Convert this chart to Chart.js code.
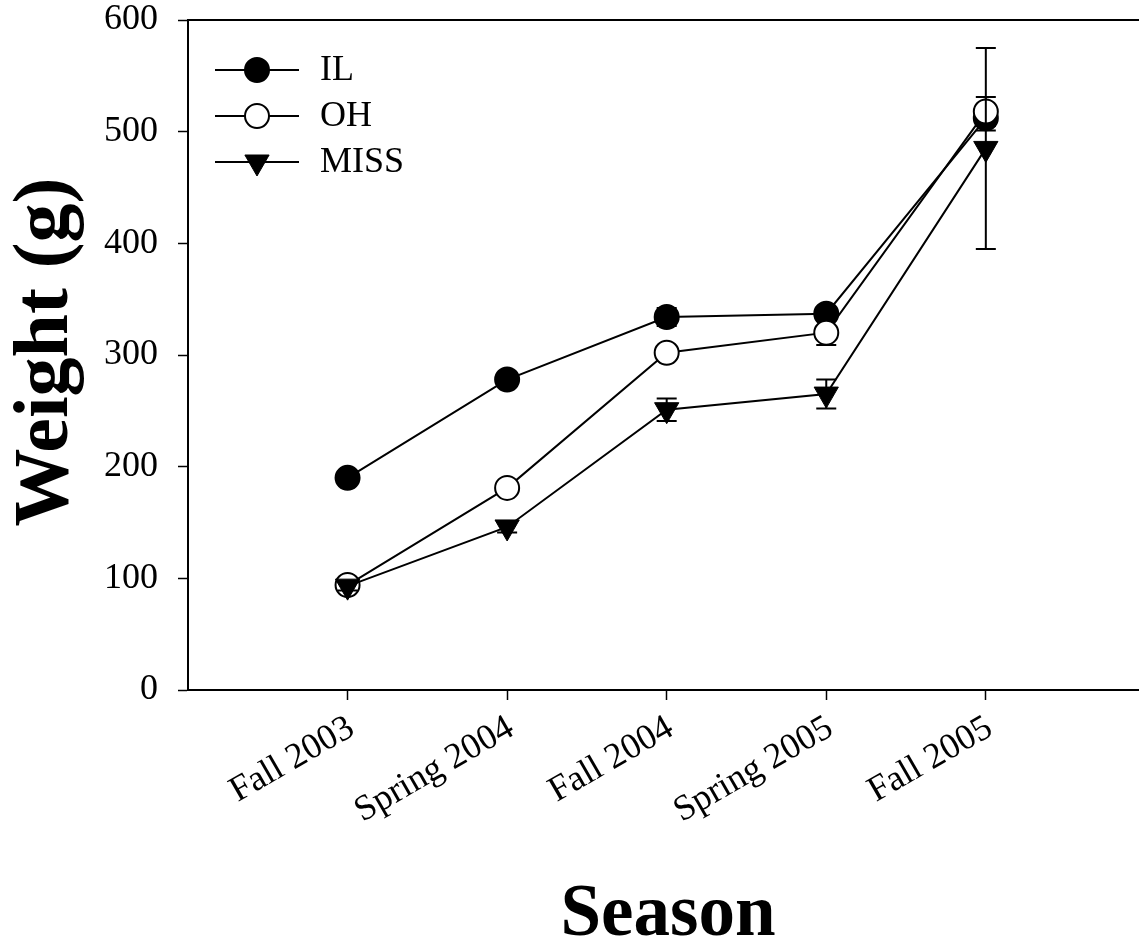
<!DOCTYPE html>
<html>
<head>
<meta charset="utf-8">
<script src="https://cdn.jsdelivr.net/npm/chart.js@4/dist/chart.umd.min.js"></script>
<style>
  html, body { margin: 0; padding: 0; background: #ffffff; }
  #wrap { width: 1139px; height: 946px; }
</style>
</head>
<body>
<div id="wrap"><canvas id="chart" width="1139" height="946"></canvas></div>
<script>
// Seasons on the x axis
const seasons = ['Fall 2003', 'Spring 2004', 'Fall 2004', 'Spring 2005', 'Fall 2005'];

// Mean weight (g) and error per population
const ilWeight   = [190, 278, 334, 337, 512];
const ilError    = [4, 5, 8, 6, 11];
const ohWeight   = [94, 181, 302, 320, 518];
const ohError    = [5, 5, 6, 11, 13];
const missWeight = [93, 146, 251, 265, 485];
const missError  = [4, 5, 10, 13, 90];

// Series names
const seriesNames = ['IL', 'OH', 'MISS'];

// y axis ticks
const yTicks = [0, 100, 200, 300, 400, 500, 600];

const SERIF = '"Liberation Serif", "Times New Roman", Times, serif';

const toPoints = (vals) => vals.map((v, i) => ({ x: i, y: v }));

const styles = [
  { pointStyle: 'circle',   radius: 12, rotation: 0,   fill: '#000000', borderWidth: 2 },
  { pointStyle: 'circle',   radius: 12, rotation: 0,   fill: '#ffffff', borderWidth: 2 },
  { pointStyle: 'triangle', radius: 14, rotation: 180, fill: '#000000', borderWidth: 1 }
];

const values = [ilWeight, ohWeight, missWeight];
const errors = [ilError, ohError, missError];

const datasets = seriesNames.map((name, k) => ({
  label: name,
  data: toPoints(values[k]),
  errors: errors[k],
  borderColor: '#000000',
  borderWidth: 2,
  pointStyle: styles[k].pointStyle,
  pointRadius: styles[k].radius,
  pointRotation: styles[k].rotation,
  pointBackgroundColor: styles[k].fill,
  pointBorderColor: '#000000',
  pointBorderWidth: styles[k].borderWidth,
  fill: false,
  tension: 0,
  order: 3 - k
}));

// Error bars drawn just before each series so its own markers sit on top
const errorBars = {
  id: 'errorBars',
  beforeDatasetDraw(chart, args) {
    const ds = chart.data.datasets[args.index];
    const yScale = chart.scales.y;
    const ctx = chart.ctx;
    ctx.save();
    ctx.strokeStyle = '#000000';
    ctx.lineWidth = 2;
    args.meta.data.forEach((pt, i) => {
      const v = ds.data[i].y;
      const e = ds.errors[i];
      const yTop = yScale.getPixelForValue(v + e);
      const yBot = yScale.getPixelForValue(v - e);
      const x = pt.x;
      const cap = 10;
      ctx.beginPath();
      ctx.moveTo(x, yTop); ctx.lineTo(x, yBot);
      ctx.moveTo(x - cap, yTop); ctx.lineTo(x + cap, yTop);
      ctx.moveTo(x - cap, yBot); ctx.lineTo(x + cap, yBot);
      ctx.stroke();
    });
    ctx.restore();
  }
};

function markerPath(ctx, style, x, y) {
  ctx.beginPath();
  if (style.pointStyle === 'circle') {
    ctx.arc(x, y, style.radius, 0, Math.PI * 2);
  } else {
    let rad = style.rotation * Math.PI / 180;
    const r = style.radius;
    ctx.moveTo(x + Math.sin(rad) * r, y - Math.cos(rad) * r);
    rad += 2 * Math.PI / 3;
    ctx.lineTo(x + Math.sin(rad) * r, y - Math.cos(rad) * r);
    rad += 2 * Math.PI / 3;
    ctx.lineTo(x + Math.sin(rad) * r, y - Math.cos(rad) * r);
    ctx.closePath();
  }
}

// Frame top line, legend and axis titles
const decorations = {
  id: 'decorations',
  afterDraw(chart) {
    const ctx = chart.ctx;
    const area = chart.chartArea;
    ctx.save();

    // top line of the frame
    ctx.strokeStyle = '#000000';
    ctx.lineWidth = 2;
    ctx.beginPath();
    ctx.moveTo(area.left - 1, area.top);
    ctx.lineTo(area.right, area.top);
    ctx.stroke();

    // legend
    const rowY = [70, 116, 162];
    seriesNames.forEach((name, k) => {
      const y = rowY[k];
      ctx.strokeStyle = '#000000';
      ctx.lineWidth = 2;
      ctx.beginPath();
      ctx.moveTo(215, y); ctx.lineTo(299, y);
      ctx.stroke();
      markerPath(ctx, styles[k], 257, y);
      ctx.fillStyle = styles[k].fill;
      ctx.fill();
      ctx.lineWidth = styles[k].borderWidth;
      ctx.stroke();
      ctx.fillStyle = '#000000';
      ctx.font = '36px ' + SERIF;
      ctx.textAlign = 'left';
      ctx.textBaseline = 'middle';
      ctx.fillText(name, 320, y + 1);
    });

    // axis titles
    ctx.fillStyle = '#000000';
    ctx.font = 'bold 73px ' + SERIF;
    ctx.textAlign = 'center';
    ctx.textBaseline = 'alphabetic';
    ctx.fillText('Season', 668, 935);

    ctx.font = 'bold 78px ' + SERIF;
    ctx.translate(67, 352);
    ctx.rotate(-Math.PI / 2);
    ctx.fillText('Weight (g)', 0, 0);
    ctx.restore();
  }
};

new Chart(document.getElementById('chart'), {
  type: 'line',
  data: { datasets },
  options: {
    responsive: false,
    animation: false,
    devicePixelRatio: 1,
    layout: { autoPadding: false, padding: { top: 20, right: 0, bottom: 0, left: 0 } },
    plugins: {
      legend: { display: false },
      tooltip: { enabled: false }
    },
    scales: {
      x: {
        type: 'linear',
        min: -1,
        max: 4.96,
        afterFit(scale) {
          scale.height = 256;
          scale.paddingLeft = 0;
          scale.paddingRight = 0;
        },
        afterBuildTicks(scale) { scale.ticks = seasons.map((_, i) => ({ value: i })); },
        ticks: {
          autoSkip: false,
          minRotation: 30,
          maxRotation: 30,
          padding: 10,
          labelOffset: 4,
          color: '#000000',
          font: { family: SERIF, size: 36, lineHeight: 1.0 },
          callback: (v) => seasons[v] !== undefined ? seasons[v] : ''
        },
        grid: {
          drawOnChartArea: false,
          drawTicks: true,
          tickLength: 10,
          tickColor: '#000000',
          tickWidth: 1.5,
          color: '#000000'
        },
        border: { display: true, color: '#000000', width: 2 }
      },
      y: {
        min: 0,
        max: 600,
        afterFit(scale) {
          scale.width = 188;
          scale.paddingTop = 0;
          scale.paddingBottom = 0;
        },
        afterBuildTicks(scale) { scale.ticks = yTicks.map(v => ({ value: v })); },
        ticks: {
          padding: 20,
          color: '#000000',
          font: { family: SERIF, size: 36, lineHeight: 1.0 }
        },
        grid: {
          drawOnChartArea: false,
          drawTicks: true,
          tickLength: 10,
          tickColor: '#000000',
          tickWidth: 1.5,
          color: '#000000'
        },
        border: { display: true, color: '#000000', width: 2 }
      }
    }
  },
  plugins: [errorBars, decorations]
});
</script>
</body>
</html>
